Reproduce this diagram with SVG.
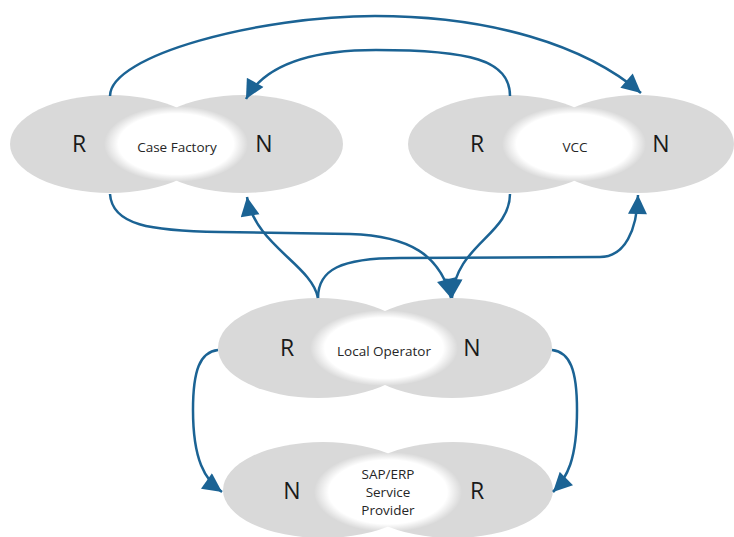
<svg xmlns="http://www.w3.org/2000/svg" width="734" height="537" viewBox="0 0 734 537">
<style>
.lobe{fill:#d9d9d9}
.glow{fill:url(#g)}
.big{font-family:"Open Sans","Liberation Sans",sans-serif;font-size:23px;fill:#1a1a1a;text-anchor:middle}
.lbl{font-family:"Open Sans","Liberation Sans",sans-serif;font-size:13.5px;fill:#262626;text-anchor:middle}
.c{fill:none;stroke:#1b6394;stroke-width:2.5;marker-end:url(#a)}
</style>
<defs>
<radialGradient id="g">
<stop offset="0" stop-color="#fff"/>
<stop offset="0.8" stop-color="#fff"/>
<stop offset="1" stop-color="#fff" stop-opacity="0"/>
</radialGradient>
<marker id="a" markerUnits="userSpaceOnUse" viewBox="0 0 10 10" refX="10" refY="5" markerWidth="20" markerHeight="19" orient="auto">
<path d="M0,0 L10,5 L0,10 z" fill="#1b6394"/>
</marker>
</defs>
<rect width="734" height="537" fill="#fff"/>
<g id="case-factory">
<ellipse class="lobe" cx="110" cy="144" rx="100" ry="49"/>
<ellipse class="lobe" cx="243" cy="144" rx="100" ry="49"/>
<ellipse class="glow" cx="176" cy="144" rx="72" ry="38"/>
<text class="big" x="79" y="152">R</text>
<text class="big" x="264" y="152">N</text>
<text class="lbl" x="177" y="152">Case Factory</text>
</g>
<g id="vcc">
<ellipse class="lobe" cx="508" cy="144" rx="100" ry="49"/>
<ellipse class="lobe" cx="638" cy="144" rx="96" ry="49"/>
<ellipse class="glow" cx="574" cy="144" rx="72" ry="38"/>
<text class="big" x="477" y="152">R</text>
<text class="big" x="661" y="152">N</text>
<text class="lbl" x="575" y="152">VCC</text>
</g>
<g id="local-operator">
<ellipse class="lobe" cx="318" cy="348" rx="100" ry="50"/>
<ellipse class="lobe" cx="452" cy="348" rx="100" ry="50"/>
<ellipse class="glow" cx="384" cy="348" rx="74" ry="38"/>
<text class="big" x="287" y="356">R</text>
<text class="big" x="472" y="356">N</text>
<text class="lbl" x="384" y="356">Local Operator</text>
</g>
<g id="sap-erp">
<ellipse class="lobe" cx="323" cy="490" rx="100" ry="48"/>
<ellipse class="lobe" cx="453" cy="490" rx="100" ry="48"/>
<ellipse class="glow" cx="388" cy="492" rx="74" ry="40"/>
<text class="big" x="292" y="499">N</text>
<text class="big" x="477" y="499">R</text>
<text class="lbl" x="388" y="479">SAP/ERP</text>
<text class="lbl" x="388" y="497">Service</text>
<text class="lbl" x="388" y="515">Provider</text>
</g>
<g id="connectors">
<path class="c" d="M110,96 C110,55 260,16 375,16 C490,16 585,45 641,93"/>
<path class="c" d="M510,96 C510,60 470,50 376,50 C300,50 262,70 246,99"/>
<path class="c" d="M110,194 C112,225 150,231 220,232 L350,234 C410,236 440,255 451,298"/>
<path class="c" d="M510,194 C510,235 455,245 452,298"/>
<path class="c" d="M318,298 C312,265 255,245 247,197"/>
<path class="c" d="M318,298 C318,270 340,258 400,258 L600,257 C625,257 637,230 638,195"/>
<path class="c" d="M218,350 C200,352 193,370 193,410 C193,460 205,480 222,492"/>
<path class="c" d="M552,350 C570,352 577,370 577,410 C577,460 567,478 553,492"/>
</g>
</svg>
